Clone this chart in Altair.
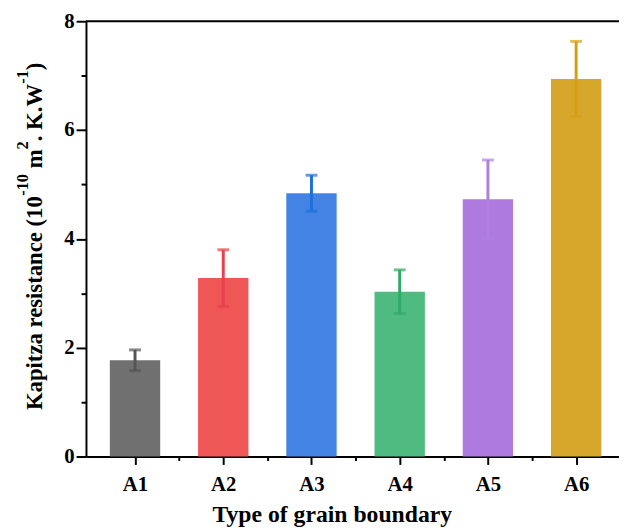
import altair as alt
import pandas as pd

categories = ["A1", "A2", "A3", "A4", "A5", "A6"]
values = [1.77, 3.28, 4.84, 3.03, 4.73, 6.94]
errors = [0.19, 0.52, 0.33, 0.40, 0.72, 0.69]
bar_colors = ["#707070", "#ef5656", "#4283e4", "#50bb80", "#ae7ae0", "#d6a72a"]
err_colors = ["#555555", "#e8404c", "#1f6fdc", "#30aa68", "#b07fe2", "#d4a012"]
y_ticks = [0, 2, 4, 6, 8]
y_minor = [1, 3, 5, 7]
x_title = "Type of grain boundary"
# y title pieces: (text, is_superscript)
y_title_parts = [("Kapitza resistance (10", False), ("-10", True), (" m", False),
                 ("2", True), (". K.W", False), ("-1", True), (")", False)]

idx = list(range(1, len(categories) + 1))
df = pd.DataFrame({
    "cat": categories,
    "idx": idx,
    "value": values,
    "lo": [v - e for v, e in zip(values, errors)],
    "hi": [v + e for v, e in zip(values, errors)],
})

FONT = "Liberation Serif"
label_expr = "[" + ",".join(f"'{c}'" for c in categories) + "][datum.value - 1]"

xscale = alt.Scale(domain=[0.5, 6.43], nice=False, zero=False)
yscale = alt.Scale(domain=[0, 8], nice=False, zero=True)

bars = alt.Chart(df).mark_bar(size=51).encode(
    x=alt.X("idx:Q", scale=xscale,
            axis=alt.Axis(values=idx, labelExpr=label_expr, tickSize=8,
                          labelPadding=9, title=x_title,
                          titleFontSize=24, titleX=249, titleY=66,
                          titleAlign="center", titleBaseline="alphabetic",
                          orient="bottom", grid=False)),
    y=alt.Y("value:Q", scale=yscale,
            axis=alt.Axis(values=y_ticks, tickSize=10, labelPadding=2,
                          title=None, orient="left", grid=False)),
    color=alt.Color("cat:N", scale=alt.Scale(domain=categories, range=bar_colors), legend=None),
)

errs = alt.Chart(df).mark_errorbar(ticks=True, size=12, thickness=3).encode(
    x=alt.X("idx:Q", scale=xscale,
            axis=alt.Axis(values=[i + 0.5 for i in idx[:-1]], labels=False, tickSize=4,
                          domain=False, title=None, orient="bottom", grid=False)),
    y=alt.Y("lo:Q", scale=yscale,
            axis=alt.Axis(values=y_minor, labels=False, tickSize=5, domain=False,
                          title=None, orient="left", grid=False)),
    y2="hi:Q",
    color=alt.Color("cat:N", scale=alt.Scale(domain=categories, range=err_colors), legend=None),
)

one = pd.DataFrame({"k": [0]})
top = alt.Chart(one).mark_rule(color="black", strokeWidth=2).encode(
    x=alt.value(0), x2=alt.value(560), y=alt.value(0)
)

# --- rotated y-axis title with true superscripts (Times-Bold advance widths)
ADV = {" ": 250, "(": 333, ")": 333, "-": 333, ".": 250, "K": 778, "W": 1000,
       "a": 500, "c": 444, "e": 444, "i": 278, "m": 833, "n": 556, "p": 556,
       "r": 444, "s": 389, "t": 333, "z": 444}
MAIN, SUP, RAISE = 23, 16.5, 14
BASE_X, CENTER_Y = -45, 218


def seg_len(txt, size):
    return sum(ADV.get(ch, 500) for ch in txt) / 1000 * size


total = sum(seg_len(t, SUP if s else MAIN) for t, s in y_title_parts)
ypos = CENTER_Y + total / 2
title_layers = []
for txt, sup in y_title_parts:
    size = SUP if sup else MAIN
    lead = len(txt) - len(txt.lstrip(" "))
    ypos -= seg_len(" " * lead, size)
    body = txt.lstrip(" ")
    title_layers.append(
        alt.Chart(one).mark_text(
            text=body, angle=270, align="left", baseline="alphabetic",
            font=FONT, fontWeight="bold", fontSize=size, color="black",
        ).encode(x=alt.value(BASE_X - (RAISE if sup else 0)), y=alt.value(ypos))
    )
    ypos -= seg_len(body, size)

chart = alt.layer(bars, errs, top, *title_layers).resolve_scale(color="independent").resolve_axis(
    x="independent", y="independent"
).properties(
    width=540, height=441,
    autosize=alt.AutoSizeParams(type="none"),
    padding={"left": 79, "top": 10, "right": 0, "bottom": 69},
).configure_view(stroke=None).configure_axis(
    labelFont=FONT, labelFontWeight="bold", labelFontSize=21, labelColor="black",
    titleFont=FONT, titleFontWeight="bold", titleColor="black",
    domainColor="black", domainWidth=2, tickColor="black", tickWidth=2,
)

chart.save("out.html", embed_options={"renderer": "svg", "actions": False})
